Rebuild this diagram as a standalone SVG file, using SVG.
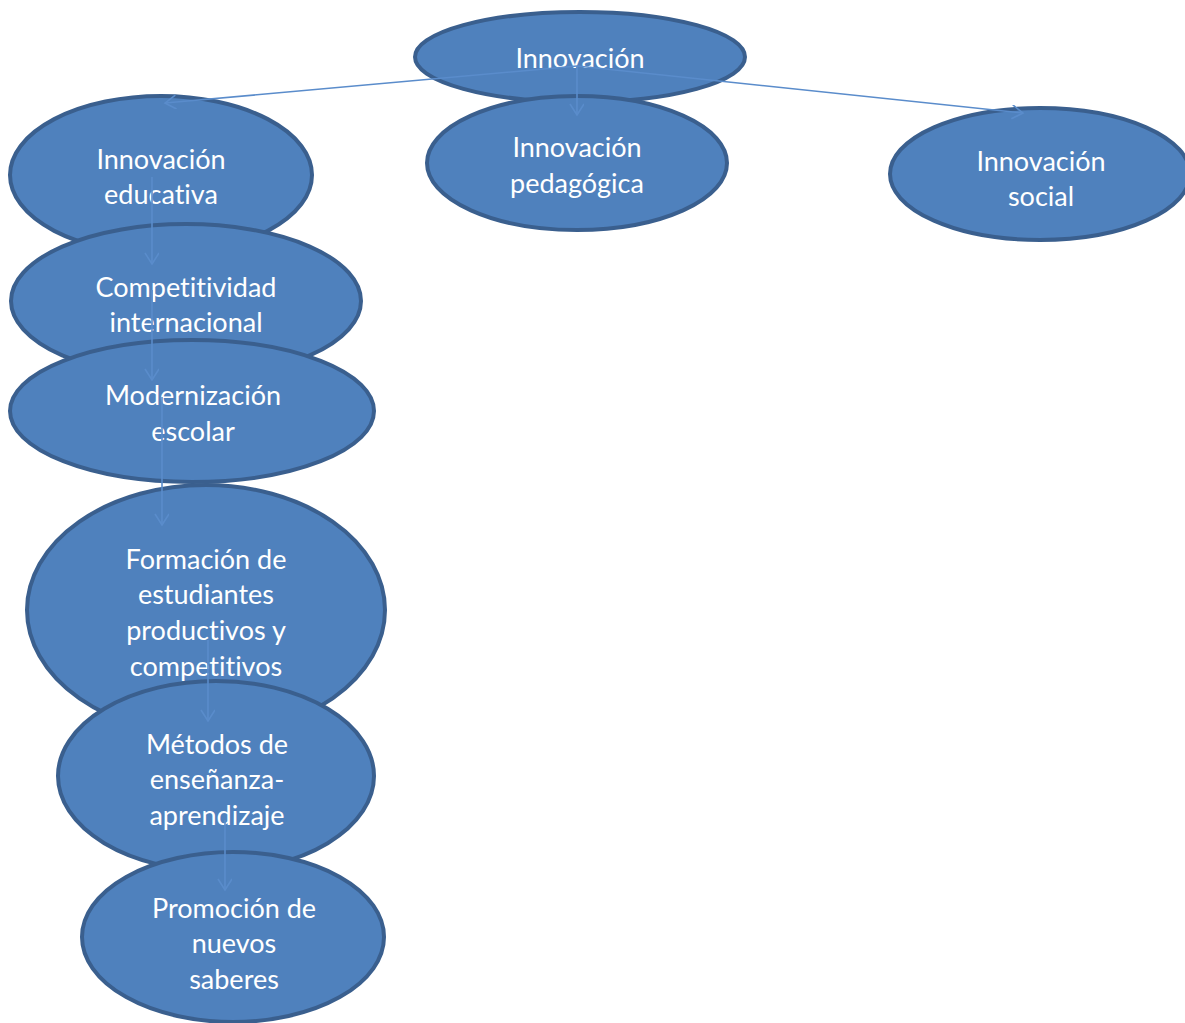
<svg xmlns="http://www.w3.org/2000/svg" width="1185" height="1023" viewBox="0 0 1185 1023">
<style>
.n ellipse{fill:#4f81bd;stroke:#3a5f8e;stroke-width:4}
.n text{fill:#fff;font-family:Lato,"Open Sans",sans-serif;font-size:27px;text-anchor:middle;dominant-baseline:central;font-variant-ligatures:none;font-feature-settings:"liga" 0}
.c line{stroke:#5a8ccb;stroke-width:1.6;fill:none}
</style>
<defs>
<marker id="a" markerWidth="16" markerHeight="16" refX="12" refY="7" orient="auto" markerUnits="userSpaceOnUse">
<path d="M1,0 L12,7 L1,14" fill="none" stroke="#5a8ccb" stroke-width="1.6"/>
</marker>
</defs>
<g id="innovacion" class="n"><ellipse cx="580" cy="57" rx="165" ry="45"/><text x="580" y="57">Innovación</text></g>
<g id="educativa" class="n"><ellipse cx="161" cy="175" rx="151" ry="79"/><text x="161" y="158">Innovación</text><text x="161" y="193">educativa</text></g>
<g id="pedagogica" class="n"><ellipse cx="577" cy="163" rx="150" ry="67"/><text x="577" y="146">Innovación</text><text x="577" y="182">pedagógica</text></g>
<g id="social" class="n"><ellipse cx="1040" cy="174" rx="150" ry="66"/><text x="1041" y="160">Innovación</text><text x="1041" y="195">social</text></g>
<g id="competitividad" class="n"><ellipse cx="186" cy="301" rx="175" ry="77"/><text x="186" y="286">Competitividad</text><text x="186" y="321">internacional</text></g>
<g id="modernizacion" class="n"><ellipse cx="192" cy="411" rx="182" ry="71"/><text x="193" y="394">Modernización</text><text x="193" y="430">escolar</text></g>
<g id="formacion" class="n"><ellipse cx="206" cy="610" rx="179" ry="125"/><text x="206" y="558">Formación de</text><text x="206" y="593">estudiantes</text><text x="206" y="629">productivos y</text><text x="206" y="665">competitivos</text></g>
<g id="metodos" class="n"><ellipse cx="216" cy="776" rx="158" ry="95"/><text x="217" y="743">Métodos de</text><text x="217" y="778">enseñanza-</text><text x="217" y="814">aprendizaje</text></g>
<g id="promocion" class="n"><ellipse cx="233" cy="937" rx="151" ry="85"/><text x="234" y="907">Promoción de</text><text x="234" y="942">nuevos</text><text x="234" y="978">saberes</text></g>
<g id="connectors" class="c">
<line x1="577" y1="66" x2="165" y2="103" marker-end="url(#a)"/>
<line x1="577" y1="66" x2="577" y2="115" marker-end="url(#a)"/>
<line x1="577" y1="66" x2="1023" y2="113" marker-end="url(#a)"/>
<line x1="152" y1="177" x2="152" y2="264" marker-end="url(#a)"/>
<line x1="152" y1="290" x2="152" y2="380" marker-end="url(#a)"/>
<line x1="162" y1="397" x2="162" y2="525" marker-end="url(#a)"/>
<line x1="208" y1="640" x2="208" y2="721" marker-end="url(#a)"/>
<line x1="225" y1="820" x2="225" y2="890" marker-end="url(#a)"/>
</g>
</svg>
